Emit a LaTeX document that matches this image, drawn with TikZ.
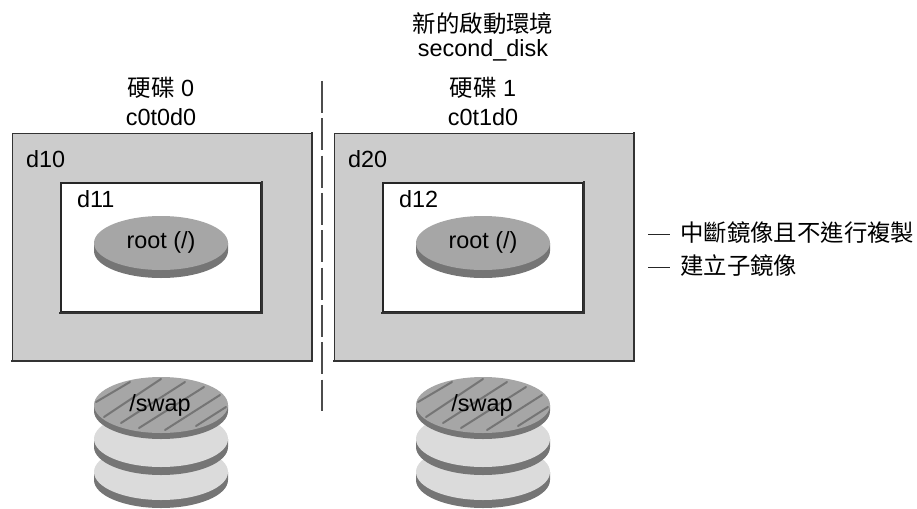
\documentclass[tikz,border=0pt]{standalone}
\usepackage{fontspec}
\setmainfont{Liberation Sans}
\newfontfamily\cjk{Noto Sans CJK TC}
\begin{document}
\begin{tikzpicture}[
  x=1pt, y=-1pt,
  font=\fontsize{23.4}{28}\selectfont,
  every node/.style={inner sep=0pt},
  outerbox/.style={draw=black!80, line width=1pt, fill=black!20},
  innerbox/.style={draw=black!85, line width=1.2pt, fill=white},
  boxshade/.style={draw=black!80, line width=2pt, line cap=rect},
  disktop/.style={fill=black!35},
  diskside/.style={fill=black!54},
  disklight/.style={fill=black!14},
  hatchline/.style={draw=black!54, line width=2pt, line cap=round},
  divider/.style={draw=black!70, line width=1.2pt, dash pattern=on 32pt off 5.33pt},
  label/.style={anchor=base, align=center}
]
\useasboundingbox (0,0) rectangle (917,508);

% Boot environment title
\node[label] (betitle) at (483,33) {\cjk 新的啟動環境};
\node[label] (bename) at (483,57) {second\_disk};

% Disk columns
\foreach \cx/\slice/\sub/\dnum/\ctl in {161/d10/d11/0/c0t0d0, 483/d20/d12/1/c0t1d0} {
  \node[label] (head\dnum) at (\cx,97) {{\cjk 硬碟} \dnum};
  \node[label] (ctl\dnum) at (\cx,125) {\ctl};

  % Mirror and submirror
  \node[outerbox, minimum width=299pt, minimum height=227pt] (mirror\dnum) at (\cx+0.5,246.5) {};
  \draw[boxshade] (mirror\dnum.south west) -- (mirror\dnum.south east) -- (mirror\dnum.north east);
  \node[innerbox, minimum width=200pt, minimum height=129pt] (sub\dnum) at (\cx,247.5) {};
  \draw[boxshade] (sub\dnum.south west) -- (sub\dnum.south east) -- (sub\dnum.north east);
  \node[anchor=base west] (mirrorlbl\dnum) at (\cx-135,167) {\slice};
  \node[anchor=base west] (sublbl\dnum) at (\cx-84,207) {\sub};

  % Root slice
  \fill[diskside] (\cx-67,243) -- ++(0,8) arc[start angle=180, end angle=360, x radius=67pt, y radius=27pt] -- ++(0,-8) -- cycle;
  \fill[disktop] (\cx,243) ellipse [x radius=67pt, y radius=27pt];
  \node[anchor=base] (root\dnum) at (\cx,248) {root (/)};

  % Stacked platters
  \foreach \cy in {472,439} {
    \fill[diskside] (\cx-67,\cy) -- ++(0,8) arc[start angle=180, end angle=360, x radius=67pt, y radius=28pt] -- ++(0,-8) -- cycle;
    \fill[disklight] (\cx,\cy) ellipse [x radius=67pt, y radius=28pt];
  }
  \fill[diskside] (\cx-67,405) -- ++(0,6) arc[start angle=180, end angle=360, x radius=67pt, y radius=28pt] -- ++(0,-6) -- cycle;
  \fill[disktop] (\cx,405) ellipse [x radius=67pt, y radius=28pt];

  % Hatching on swap
  \begin{scope}[shift={(\cx,405)}]
    \clip (0,0) ellipse [x radius=67pt, y radius=28pt];
    \foreach \xa/\ya/\xb/\yb in {-65/-3/-31/-23, -57/12/0/-26, -40/18/24/-23, -22/23/43/-18, 4/25/59/-10, 35/21/65/2} {
      \draw[hatchline] (\xa,\ya) -- (\xb,\yb);
    }
  \end{scope}
  \node[anchor=base] (swap\dnum) at (\cx-1,411) {/swap};
}

% Divider
\coordinate (divtop) at (322,81);
\coordinate (divbot) at (322,411);
\draw[divider] (divtop) -- (divbot);

% Side notes
\node[anchor=west, inner xsep=10pt] (note1) at (670,233) {\cjk 中斷鏡像且不進行複製};
\node[anchor=west, inner xsep=10pt] (note2) at (670,266) {\cjk 建立子鏡像};
\coordinate (tick1) at (648,234);
\coordinate (tick2) at (648,267);
\draw[black!85, line width=1pt] (tick1) -- (tick1 -| note1.west);
\draw[black!85, line width=1pt] (tick2) -- (tick2 -| note2.west);

\end{tikzpicture}
\end{document}
